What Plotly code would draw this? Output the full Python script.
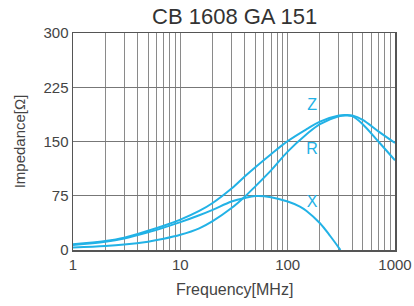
import plotly.graph_objects as go

# Frequency [MHz] and impedance [ohm]
freq_z = [1, 2, 3, 5, 7, 10, 15, 20, 30, 40, 50, 70, 100, 150, 200, 300, 350, 400, 500, 700, 1000]
imp_z = [8, 12.5, 17, 26.5, 33.5, 42, 54, 65, 85, 102, 114.5, 132.5, 150.5, 167, 177.5, 186, 186.6, 186, 180, 164, 148]

freq_r = [1, 2, 3, 5, 7, 10, 15, 20, 30, 40, 50, 70, 100, 150, 200, 300, 350, 400, 500, 700, 1000]
imp_r = [3.5, 5.5, 7.5, 11.5, 15.5, 21, 30, 40, 58, 74, 88, 110, 136, 160, 174, 185, 186, 185, 174, 150, 124]

freq_x = [1, 2, 3, 5, 7, 10, 15, 20, 30, 40, 50, 70, 100, 130, 150, 200, 250, 300, 310]
imp_x = [7, 11.5, 16, 24.5, 31, 38.5, 48, 55.5, 67, 72, 74.5, 73, 67, 60, 54, 37, 19, 3, 0]

# curve labels
label_text = ["Z", "R", "X"]
label_freq = [169, 169, 169]
label_imp = [199, 138, 65]

# axis ticks
x_tickvals = [1, 2, 3, 4, 5, 6, 7, 8, 9, 10, 20, 30, 40, 50, 60, 70, 80, 90,
              100, 200, 300, 400, 500, 600, 700, 800, 900, 1000]
x_ticktext = ["1", "", "", "", "", "", "", "", "", "10", "", "", "", "", "", "", "", "",
              "100", "", "", "", "", "", "", "", "", "1000"]
y_tickvals = [0, 75, 150, 225, 300]

title_text = "CB 1608 GA 151"
x_title = "Frequency[MHz]"
y_title = "Impedance[Ω]"

blue = "#22b2e6"
font = "Liberation Sans, Arial, sans-serif"

fig = go.Figure()
for fx, fy in [(freq_z, imp_z), (freq_r, imp_r), (freq_x, imp_x)]:
    fig.add_trace(go.Scatter(x=fx, y=fy, mode="lines",
                             line=dict(color=blue, width=2, shape="spline", smoothing=1.0),
                             showlegend=False, hoverinfo="skip"))

fig.add_trace(go.Scatter(x=label_freq, y=label_imp, mode="text", text=label_text,
                         textfont=dict(color=blue, size=16, family=font),
                         showlegend=False, hoverinfo="skip"))

fig.update_layout(
    width=414, height=306,
    margin=dict(l=73, r=19, t=33, b=56),
    paper_bgcolor="white", plot_bgcolor="white",
    font=dict(family=font, color="#444"),
    xaxis=dict(type="log", range=[0, 3], tickvals=x_tickvals, ticktext=x_ticktext,
               showgrid=True, gridcolor="#8a8a8a", gridwidth=1, automargin=False,
               showline=True, mirror=True, linecolor="#555", linewidth=1.5,
               ticks="", tickfont=dict(size=15, color="#444"), zeroline=False),
    yaxis=dict(range=[0, 300], tickvals=y_tickvals, automargin=False,
               showgrid=True, gridcolor="#777", gridwidth=1,
               showline=True, mirror=True, linecolor="#555", linewidth=1.5,
               ticks="", tickfont=dict(size=15, color="#444"), zeroline=False),
    annotations=[
        dict(text=title_text, xref="paper", yref="paper", x=0.5, y=1.077,
             xanchor="center", yanchor="middle", showarrow=False,
             font=dict(size=22, color="#333", family=font)),
        dict(text=x_title, xref="paper", yref="paper", x=0.5, y=-0.184,
             xanchor="center", yanchor="middle", showarrow=False,
             font=dict(size=16, color="#444", family=font)),
        dict(text=y_title, xref="paper", yref="paper", x=-0.165, y=0.5,
             xanchor="center", yanchor="middle", showarrow=False, textangle=-90,
             font=dict(size=15, color="#444", family=font)),
    ],
)

fig.write_html("out.html", config={"displayModeBar": False, "staticPlot": True},
               post_script="document.body.style.margin='0';")
